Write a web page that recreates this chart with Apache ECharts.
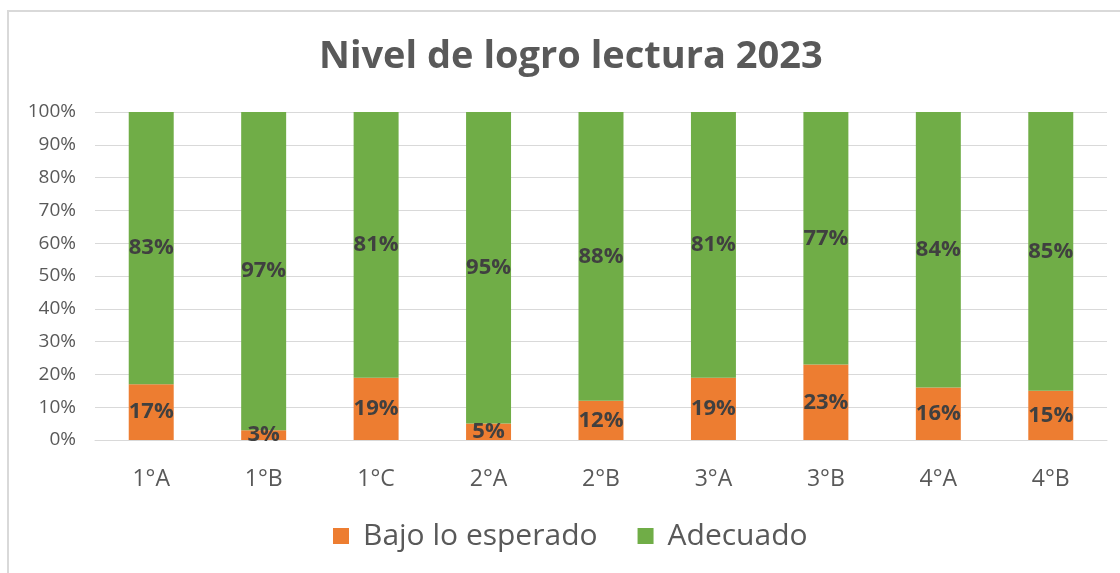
<!DOCTYPE html>
<html>
<head>
<meta charset="utf-8">
<script src="https://cdn.jsdelivr.net/npm/echarts@6/dist/echarts.min.js"></script>
<style>
  html, body { margin: 0; padding: 0; background: #fff; }
  #chart { width: 1120px; height: 573px; position: relative; }
  .frame { position: absolute; left: 7px; top: 10px; width: 1130px; height: 600px; border: 2px solid #d9d9d9; box-sizing: border-box; pointer-events: none; }
</style>
</head>
<body>
<div id="chart"></div>
<div class="frame"></div>
<script>
const categories = ['1°A', '1°B', '1°C', '2°A', '2°B', '3°A', '3°B', '4°A', '4°B']
const bajoLoEsperado = [17, 3, 19, 5, 12, 19, 23, 16, 15]
const adecuado = [83, 97, 81, 95, 88, 81, 77, 84, 85]

const font = 'Open Sans'

const labelStyle = {
  show: true,
  position: 'inside',
  formatter: '{c}%',
  fontFamily: font,
  fontWeight: 'bold',
  fontSize: 22,
  color: '#404040',
}

const chart = echarts.init(document.getElementById('chart'))
chart.setOption({
  animation: false,
  title: {
    text: 'Nivel de logro lectura 2023',
    left: 314,
    top: 33,
    textStyle: {
      fontFamily: font,
      fontWeight: 'bold',
      fontSize: 38,
      color: '#595959',
    },
  },
  legend: {
    bottom: 17,
    left: 328,
    itemWidth: 16,
    itemHeight: 16,
    itemGap: 40,
    icon: 'rect',
    textStyle: {
      fontFamily: font,
      fontSize: 30,
      color: '#595959',
      padding: [0, 0, 0, 9],
    },
    data: ['Bajo lo esperado', 'Adecuado'],
  },
  grid: {
    left: 95,
    right: 13,
    top: 112,
    bottom: 133,
  },
  xAxis: {
    type: 'category',
    data: categories,
    axisLine: { lineStyle: { color: '#d9d9d9', width: 1 } },
    axisTick: { show: false },
    axisLabel: {
      margin: 28,
      fontFamily: font,
      fontSize: 23,
      color: '#595959',
    },
  },
  yAxis: {
    type: 'value',
    min: 0,
    max: 100,
    interval: 10,
    axisLine: { show: false },
    axisTick: { show: false },
    splitLine: { lineStyle: { color: '#d9d9d9', width: 1 } },
    axisLabel: {
      formatter: '{value}%',
      margin: 19,
      fontFamily: font,
      fontSize: 19,
      color: '#595959',
    },
  },
  series: [
    {
      name: 'Bajo lo esperado',
      type: 'bar',
      stack: 'total',
      barWidth: '40%',
      itemStyle: { color: '#ed7d31' },
      label: labelStyle,
      data: bajoLoEsperado,
    },
    {
      name: 'Adecuado',
      type: 'bar',
      stack: 'total',
      barWidth: '40%',
      itemStyle: { color: '#70ad47' },
      label: labelStyle,
      data: adecuado,
    },
  ],
})
</script>
</body>
</html>
